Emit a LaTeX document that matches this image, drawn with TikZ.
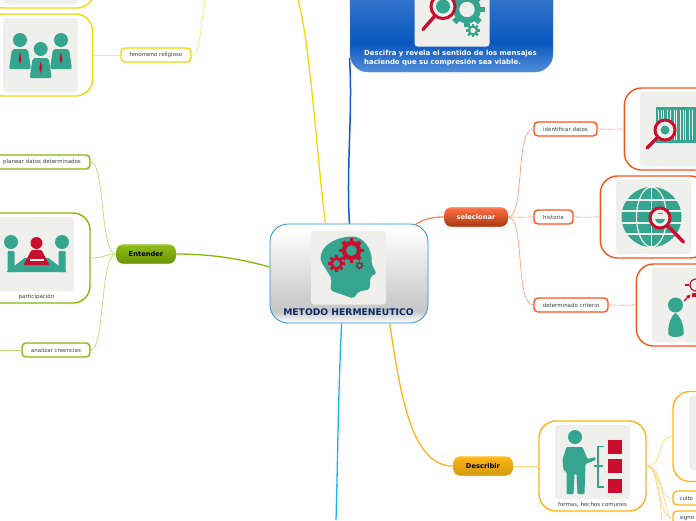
\documentclass[tikz,border=0pt]{standalone}
\usepackage{fontspec}
\setmainfont{DejaVu Sans}
\usepackage{xcolor}
\definecolor{mapTeal}{HTML}{35A58F}
\definecolor{mapRed}{HTML}{C8102E}
\definecolor{mapPanel}{HTML}{EFEFEB}
\definecolor{mapText}{HTML}{404040}
\definecolor{mapNavy}{HTML}{0B2A63}
\definecolor{mapYellow}{HTML}{F0D80A}
\definecolor{mapGreen}{HTML}{86B808}
\definecolor{mapOrange}{HTML}{F9541E}
\definecolor{mapAmber}{HTML}{FCB514}
\definecolor{mapBlue}{HTML}{0A5CC8}
\definecolor{mapSky}{HTML}{1AB2F0}
\definecolor{mapEdge}{HTML}{2A8FD6}
\usetikzlibrary{positioning,calc}
\pgfdeclareverticalshading{centralShade}{100bp}{color(0bp)=(white); color(25bp)=(white); color(31bp)=(black!22); color(40bp)=(black!18); color(73bp)=(white); color(75bp)=(white); color(100bp)=(white)}
\pgfdeclareverticalshading{blueShade}{100bp}{color(0bp)=(mapBlue!70!white); color(25bp)=(mapBlue!70!white); color(38bp)=(mapBlue!95!black); color(75bp)=(mapBlue!70!white); color(100bp)=(mapBlue!70!white)}
\pgfdeclareverticalshading{orangeShade}{100bp}{color(0bp)=(mapOrange!60!white); color(25bp)=(mapOrange!60!white); color(29bp)=(mapOrange!70!black); color(71bp)=(mapOrange!85!white); color(75bp)=(mapOrange!60!white); color(100bp)=(mapOrange!60!white)}
\pgfdeclareverticalshading{greenShade}{100bp}{color(0bp)=(mapGreen!60!white); color(25bp)=(mapGreen!60!white); color(29bp)=(mapGreen!82!black); color(71bp)=(mapGreen!95!white); color(75bp)=(mapGreen!60!white); color(100bp)=(mapGreen!60!white)}
\pgfdeclareverticalshading{amberShade}{100bp}{color(0bp)=(mapAmber!60!white); color(25bp)=(mapAmber!60!white); color(29bp)=(mapAmber!85!black); color(71bp)=(mapAmber); color(75bp)=(mapAmber!60!white); color(100bp)=(mapAmber!60!white)}
\newcommand{\gearicon}[4]{%
	\begin{scope}[shift={(#1,#2)}]
		\draw[#4, line width=#3*.38pt] (0,0) circle (#3*.68);
		\foreach \a in {0,45,...,315}
			\draw[#4, line width=#3*.36pt] (\a:#3*.7) -- (\a:#3*1.12);
	\end{scope}}
\newcommand{\lensicon}[6]{%
	\draw[mapRed, line width=3.4pt, line cap=round] ($(#1,#2)!#3pt!(#4,#5)$) -- (#4,#5);
	\draw[mapRed, line width=3pt, fill=#6] (#1,#2) circle (#3);}
\newcommand{\suitperson}[2]{%
	\fill[mapTeal] (#1,#2) circle (7);
	\fill[mapTeal, rounded corners=2pt] (#1-8,#2+9) -- (#1+8,#2+9) -- (#1+11,#2+29) -- (#1-11,#2+29) -- cycle;
	\fill[mapRed] (#1,#2+12) -- (#1+1.5,#2+19) -- (#1,#2+24) -- (#1-1.5,#2+19) -- cycle;}

\begin{document}
\begin{tikzpicture}[
		x=1pt, y=-1pt,
		font=\fontsize{5.5pt}{6pt}\selectfont,
		central/.style={rectangle, rounded corners=18pt, draw=mapEdge, line width=.8pt, shade, shading=centralShade,
			minimum width=158pt, minimum height=99pt, inner sep=0pt},
		mainbox/.style={rectangle, rounded corners=8pt, minimum width=#1, minimum height=20pt, inner sep=0pt,
			font=\fontsize{6.7pt}{7pt}\selectfont\bfseries},
		subbox/.style={rectangle, rounded corners=4pt, draw=#1, line width=1.4pt, fill=white, text=mapText,
			minimum height=14pt, inner sep=0pt},
		imgbox/.style={rectangle, rounded corners=17pt, draw=#1, line width=1.4pt, fill=white,
			minimum width=107pt, minimum height=82pt, inner sep=0pt},
		panel/.style={rectangle, rounded corners=3pt, fill=mapPanel, minimum width=75pt, minimum height=74pt, inner sep=0pt},
		caption/.style={text=mapText},
		mainlink/.style={line width=1.3pt, draw=#1},
		sublink/.style={line width=.7pt, draw=#1!55!white}
		]
		\clip (0,0) rectangle (696,520);

		% central node and the four branches that leave the page
		\node[central] (root) at (349,273.5) {};
		\node[panel] (rootpic) at (348.5,267.5) {};
		\node[font=\fontsize{9.2pt}{10pt}\selectfont\bfseries, text=mapNavy] (roottxt) at (348.5,312) {METODO HERMENEUTICO};
		\coordinate (topyellow) at (298,0);
		\coordinate (bottomsky) at (336,520);

		% blue box
		\coordinate (bluetop) at (349.5,58);
		\draw[line width=1.5pt, draw=mapBlue] (root.north -| bluetop) .. controls (346,170) and (353,110) .. (bluetop);
		\node[rectangle, rounded corners=18pt, draw=mapBlue!70!white, shade, shading=blueShade, minimum width=203pt, minimum height=112pt, inner sep=0pt] (blue) at (451.5,16) {};
		\node[panel, rounded corners=3pt] (bluepic) at (452,9.5) {};
		\node[anchor=west, align=left, inner sep=0pt, text=white, font=\fontsize{6.95pt}{9pt}\selectfont\bfseries] (bluetxt) at (364,58.5) {Descifra y revela el sentido de los mensajes\\haciendo que su compresión sea viable.};

		% yellow branch
		\node[subbox=mapYellow, minimum width=70pt] (fenomeno) at (156,55) {fenómeno religioso};
		\node[imgbox=mapYellow, left=27pt of fenomeno] (fenomenoimg) {};
		\node[panel] (fenomenopic) at (40.5,55) {};
		\node[imgbox=mapYellow] (upperimg) at (40.5,-33) {};
		\node[panel] (upperpic) at (40.5,-33) {};
		\coordinate (yellowup) at (205,0);

		% green branch
		\node[mainbox=60pt, shade, shading=greenShade] (entender) at (146,254) {Entender};
		\node[subbox=mapGreen, minimum width=107pt] (planear) at (36.5,162) {\hspace*{11pt}planear datos determinados};
		\node[imgbox=mapGreen, minimum height=90pt] (partic) at (36.5,258) {};
		\node[panel] (particpic) at (36.5,254) {};
		\node[caption] (partictxt) at (36.5,297) {participación};
		\node[subbox=mapGreen, minimum width=68pt] (analizar) at (56,350) {analizar creencias};
		\coordinate (analizarend) at (0,350);

		% orange branch
		\node[mainbox=64pt, shade, shading=orangeShade, text=white] (selec) at (476,217) {selecionar};
		\node[subbox=mapOrange, minimum width=63pt] (ident) at (565.5,129) {identificar datos};
		\node[subbox=mapOrange, minimum width=39pt] (hist) at (553.5,217) {historia};
		\node[subbox=mapOrange, minimum width=74pt] (crit) at (571,305) {determinado criterio};
		\node[imgbox=mapOrange, right=26pt of ident] (identimg) {};
		\node[panel] (identpic) at (677.5,129) {};
		\node[imgbox=mapOrange, right=26pt of hist] (histimg) {};
		\node[panel] (histpic) at (653.5,217) {};
		\node[imgbox=mapOrange, right=27pt of crit] (critimg) {};
		\node[panel] (critpic) at (689.5,305) {};

		% amber branch
		\node[mainbox=60pt, shade, shading=amberShade] (descr) at (483,466) {Describir};
		\node[imgbox=mapAmber, minimum height=90pt] (formas) at (592.5,466) {};
		\node[panel] (formaspic) at (592.5,462) {};
		\node[caption] (formastxt) at (592.5,505) {formas, hechos comunes};
		\node[imgbox=mapAmber, minimum height=90pt] (amberimg) at (726.5,436.5) {};
		\node[panel] (amberpic) at (726.5,433) {};
		\node[subbox=mapAmber, minimum width=60pt, text width=47pt] (culto) at (703,498) {culto};
		\node[subbox=mapAmber, minimum width=60pt, text width=47pt] (signo) at (703,518) {signo};
		\coordinate (amberdown) at (662,520);
		\coordinate (amberdowntwo) at (670,520);

		% connectors
		\draw[mainlink=mapYellow] (root.north west) ++(56,0) .. controls (318,170) and (310,40) .. (topyellow);
		\draw[mainlink=mapSky] (root.south west) ++(72,0) .. controls (338,400) and (338,450) .. (bottomsky);
		\draw[mainlink=mapGreen] (entender.east) .. controls (215,254) and (245,260) .. (root.west |- 0,267);
		\draw[mainlink=mapOrange!70!white] (root.north east) ++(-13,1) .. controls (425,218) and (435,217) .. (selec.west);
		\draw[mainlink=mapAmber] (root.south west) ++(120,0) .. controls (400,390) and (410,466) .. (descr.west);

		\draw[sublink=mapYellow] (fenomeno.east) .. controls (200,55) and (200,30) .. (yellowup);
		\draw[sublink=mapYellow] (fenomenoimg) -- (fenomeno);
		\draw[sublink=mapGreen] (entender.west) .. controls (100,254) and (105,162) .. (planear.east);
		\draw[sublink=mapGreen] (entender.west) .. controls (105,254) and (105,258) .. (partic.east);
		\draw[sublink=mapGreen] (entender.west) .. controls (100,254) and (105,350) .. (analizar.east);
		\draw[sublink=mapGreen] (analizar) -- (analizarend);
		\draw[sublink=mapOrange] (selec.east) .. controls (525,217) and (515,129) .. (ident.west);
		\draw[sublink=mapOrange] (selec.east) .. controls (515,217.2) and (525,217.2) .. (hist.west);
		\draw[sublink=mapOrange] (selec.east) .. controls (525,217) and (515,305) .. (crit.west);
		\draw[sublink=mapOrange] (ident.east) .. controls (605,129.2) and (615,129.2) .. (identimg.west);
		\draw[sublink=mapOrange] (hist.east) .. controls (585,217.2) and (590,217.2) .. (histimg.west);
		\draw[sublink=mapOrange] (crit.east) .. controls (618,305.2) and (626,305.2) .. (critimg.west);
		\draw[sublink=mapAmber] (descr) -- (formas);
		\draw[sublink=mapAmber] (formas.east) .. controls (665,466) and (655,437) .. (amberimg.west);
		\draw[sublink=mapAmber] (formas.east) .. controls (664,466) and (656,498) .. (culto.west);
		\draw[sublink=mapAmber] (formas.east) .. controls (662,466) and (656,518) .. (signo.west);
		\draw[sublink=mapAmber] (formas.east) .. controls (656,466) and (660,500) .. (amberdown);
		\draw[sublink=mapAmber] (formas.east) .. controls (658,466) and (664,500) .. (amberdowntwo);

		% icons
		\begin{scope}[shift={(rootpic.center)}]
			\fill[mapTeal, rounded corners=2pt] (-18,23) -- (-17,11) -- (-28,-7) .. controls (-28,-20) and (-17,-29) .. (2,-31) .. controls (15,-31) and (24,-18) .. (23,-4) -- (28,6) -- (22,9) -- (21,22) -- (10,24) -- (5,31) -- cycle;
			\gearicon{3}{-17}{11}{mapRed}
			\gearicon{-12}{-4}{7.5}{mapRed}
			\gearicon{11}{-2}{3.6}{mapRed}
		\end{scope}
		\begin{scope}[shift={(bluepic.center)}]
			\gearicon{15}{0}{16}{mapTeal}
			\gearicon{21}{21}{6}{mapTeal}
			\lensicon{-9}{-3}{12}{-29}{20}{mapPanel}
			\fill[mapTeal] (-9,-3) circle (7);
		\end{scope}
		\suitperson{20}{40}
		\suitperson{61}{40}
		\suitperson{40.7}{49}
		\begin{scope}[shift={(particpic.center)}]
			\fill[mapTeal] (-30,18) -- (-12,4) -- (12,4) -- (30,18) -- cycle;
			\fill[mapTeal] (-25.5,-12) circle (7);
			\fill[mapTeal] (25.5,-12) circle (7);
			\fill[mapTeal, rounded corners=1pt] (-29,-3) rectangle (-22,18);
			\fill[mapTeal, rounded corners=1pt] (22,-3) rectangle (29,18);
			\fill[mapRed] (0,-11) circle (6);
			\fill[mapRed, rounded corners=1pt] (-5,-4) -- (5,-4) -- (13,11) -- (-13,11) -- cycle;
			\fill[mapPanel] (-7,5) rectangle (7,7);
		\end{scope}
		\begin{scope}[shift={(identpic.center)}]
			\fill[mapTeal] (-22,-22) rectangle (38,14);
			\foreach \s in {-20,-17,-15,-11,-8,-4,-2,2,5,7,11,14,18,21,25,28,32}
				\fill[mapPanel] (\s,-19) rectangle (\s+1.2,11);
			\lensicon{-12.5}{1}{10}{-30.5}{19}{mapPanel}
			\fill[mapTeal] (-12.5,1) circle (4.5);
		\end{scope}
		\begin{scope}[shift={(histpic.center)}]
			\fill[mapTeal] (-2,0) circle (30);
			\draw[mapPanel, line width=1.2pt] (-2,-30) -- (-2,30);
			\draw[mapPanel, line width=1.2pt] (-2,0) ellipse (15 and 30);
			\foreach \l in {-17,-6,6,17}
				\draw[mapPanel, line width=1.2pt] (-32,\l) -- (28,\l);
			\lensicon{6.5}{1}{10}{30}{25}{mapPanel}
			\fill[mapTeal] (1.5,2) -- (11.5,2) .. controls (11,8) and (2,8) .. (1.5,2);
			\fill[mapTeal] (4,-4) rectangle (9,-3);
		\end{scope}
		\begin{scope}[shift={(critpic.center)}]
			\fill[mapTeal] (-14,0) circle (7.5);
			\fill[mapTeal] (-14,8) .. controls (-19,11) and (-22,22) .. (-21,29) .. controls (-20,33) and (-8,33) .. (-6,29) .. controls (-5,22) and (-9,11) .. (-14,8);
			\fill[mapPanel] (-7.5,12) -- (-6.5,18) -- (-8,13) -- cycle;
			\draw[mapRed, line width=1.2pt, fill=mapPanel] (6.5,-20) circle (6);
			\draw[mapRed, line width=1.2pt] (-5.5,-4) -- (-1,-8.5);
			\fill[mapRed] (1,-10.5) -- (-3.5,-9) -- (-.5,-6) -- cycle;
			\draw[mapRed, line width=1.2pt] (-4.5,-20) -- (-.5,-20);
			\fill[mapRed] (2.5,-12) rectangle (9,-8);
		\end{scope}
		\begin{scope}[shift={(formaspic.center)}]
			\fill[mapTeal] (-17.5,-25) circle (7);
			\fill[mapTeal, rounded corners=1pt] (-26,-15) -- (-10,-15) -- (-5,-3) -- (3,-5) -- (3,-2) -- (-7,2) -- (-8,32) -- (-15,32) -- (-16,12) -- (-18,12) -- (-19,32) -- (-26,32) -- (-26,10) -- (-29,8) -- (-30,-3) -- cycle;
			\draw[mapTeal, line width=1.6pt] (11.5,-15.5) -- (5.5,-15.5) -- (5.5,25) -- (11.5,25);
			\draw[mapTeal, line width=1.6pt] (1.5,4) -- (10,4);
			\foreach \s in {-22,-3,17}
				\fill[mapRed] (15.5,\s) rectangle (29.5,\s+13.5);
		\end{scope}
		\end{tikzpicture}
\end{document}
